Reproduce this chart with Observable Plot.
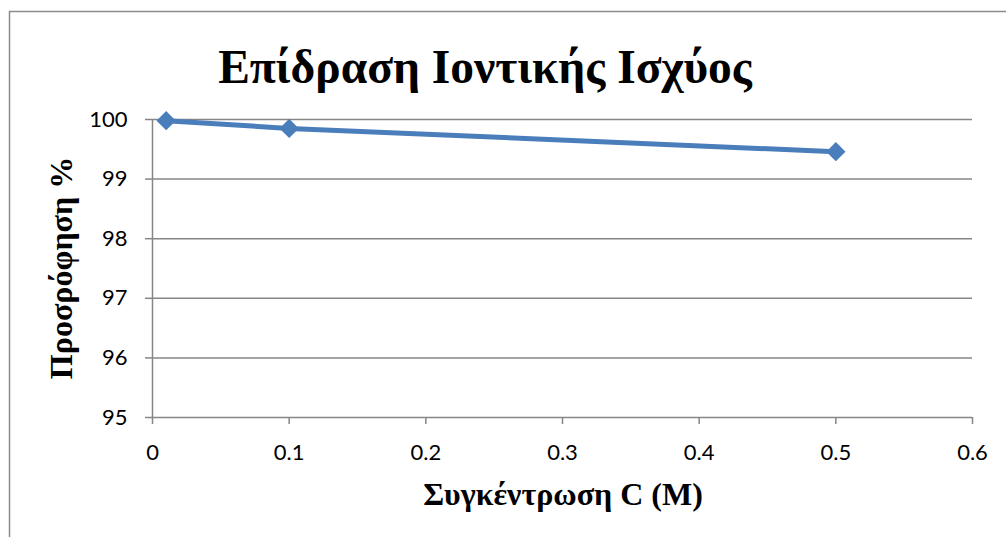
<!DOCTYPE html>
<html>
<head>
<meta charset="utf-8">
<script src="https://cdn.jsdelivr.net/npm/d3@7"></script>
<script src="https://cdn.jsdelivr.net/npm/@observablehq/plot@0.6"></script>
<style>
  html, body { margin: 0; padding: 0; background: #fff; }
  #chart { position: relative; width: 1006px; height: 537px; overflow: hidden; }
  #chart g[aria-label$="tick label"], #chart g[aria-label$="tick label"] text { font-size: 22px !important; font-family: Lato, 'Open Sans', sans-serif; }
</style>
</head>
<body>
<div id="chart"></div>
<script>
const concentration = [0.01, 0.1, 0.5];
const adsorption = [99.98, 99.85, 99.46];
const xTicks = [0, 0.1, 0.2, 0.3, 0.4, 0.5, 0.6];
const yTicks = [95, 96, 97, 98, 99, 100];
const titleText = "Επίδραση Ιοντικής Ισχύος";
const xLabelText = "Συγκέντρωση C (M)";
const yLabelText = "Προσρόφηση %";

const data = concentration.map((c, i) => ({c, y: adsorption[i]}));
const gray = "#868686";
const blue = "#4A7EBB";
const tickFont = "Lato, 'Open Sans', sans-serif";

const svg = Plot.plot({
  width: 1006,
  height: 537,
  marginLeft: 152,
  marginRight: 34,
  marginTop: 119,
  marginBottom: 120,
  x: {domain: [0, 0.6]},
  y: {domain: [95, 100]},
  style: {fontFamily: tickFont, fontSize: "22px", color: "#000", background: "#fff", overflow: "visible"},
  marks: [
    Plot.gridY(yTicks, {stroke: gray, strokeOpacity: 1, strokeWidth: 1.5}),
    Plot.axisY(yTicks, {tickSize: 7, tickPadding: 18, stroke: gray, strokeWidth: 1.5, fill: "#000", fontSize: 22, label: null, tickFormat: d => String(d)}),
    Plot.axisX(xTicks, {tickSize: 7, tickPadding: 20, stroke: gray, strokeWidth: 1.5, fill: "#000", fontSize: 22, label: null, tickFormat: d => String(d)}),
    Plot.ruleX([0], {stroke: gray, strokeWidth: 1.5}),
    Plot.line(data, {x: "c", y: "y", stroke: blue, strokeWidth: 5}),
    Plot.dot(data, {x: "c", y: "y", symbol: "diamond2", r: 8.7, fill: blue, stroke: "none"})
  ]
});

const s = d3.select(svg);
// chart-area border (left and top visible)
s.append("line").attr("x1", 9.5).attr("x2", 9.5).attr("y1", 11).attr("y2", 537).attr("stroke", "#8c8c8c").attr("stroke-width", 1.5);
s.append("line").attr("x1", 9).attr("x2", 1006).attr("y1", 11.5).attr("y2", 11.5).attr("stroke", "#8c8c8c").attr("stroke-width", 1.5);

const serif = "'Liberation Serif', 'DejaVu Serif', serif";
s.append("text").text(titleText)
  .attr("x", 485).attr("y", 83).attr("text-anchor", "middle")
  .attr("font-family", serif).attr("font-weight", "bold").attr("font-size", 47.5).attr("fill", "#000");

s.append("text").text(xLabelText)
  .attr("x", 563).attr("y", 505).attr("text-anchor", "middle")
  .attr("font-family", serif).attr("font-weight", "bold").attr("font-size", 32).attr("fill", "#000");

s.append("text").text(yLabelText)
  .attr("transform", "translate(72,268) rotate(-90)").attr("text-anchor", "middle")
  .attr("font-family", serif).attr("font-weight", "bold").attr("font-size", 32).attr("fill", "#000");

document.getElementById("chart").appendChild(svg);
</script>
</body>
</html>
